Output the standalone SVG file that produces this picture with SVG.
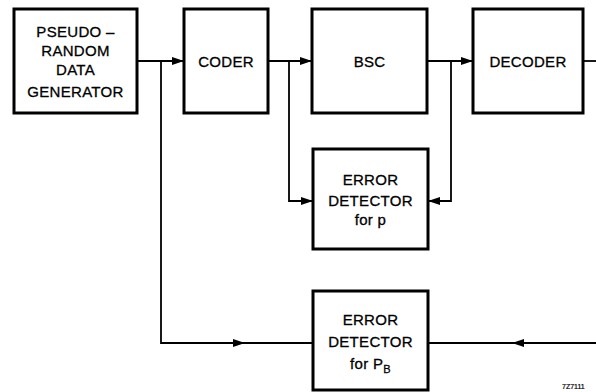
<svg xmlns="http://www.w3.org/2000/svg" width="596" height="392" viewBox="0 0 596 392">
<style>
.box{fill:#fff;stroke:#000;stroke-width:3}
.ln{fill:none;stroke:#000;stroke-width:1.8}
.t{font-family:"Liberation Sans",Arial,sans-serif;font-size:15px;fill:#000;text-anchor:middle;letter-spacing:0.3px;stroke:#000;stroke-width:0.3}
.s{font-family:"Liberation Sans",Arial,sans-serif;font-size:7px;fill:#000;stroke:#000;stroke-width:0.2}
</style>
<defs>
<marker id="ar" viewBox="0 0 12 8" refX="12" refY="4" markerWidth="12" markerHeight="8" markerUnits="userSpaceOnUse" orient="auto">
<path d="M0,0 L12,4 L0,8 Z" fill="#000"/>
</marker>
</defs>
<g id="connectors">
<path class="ln" d="M137,61 H184" marker-end="url(#ar)"/>
<path class="ln" d="M268,61 H312" marker-end="url(#ar)"/>
<path class="ln" d="M427,61 H473" marker-end="url(#ar)"/>
<path class="ln" d="M583,61 H596"/>
<path class="ln" d="M289,61 V201 H313" marker-end="url(#ar)"/>
<path class="ln" d="M451,61 V201 H428" marker-end="url(#ar)"/>
<path class="ln" d="M161,61 V343 H245" marker-end="url(#ar)"/>
<path class="ln" d="M245,343 H313"/>
<path class="ln" d="M596,343 H512" marker-end="url(#ar)"/>
<path class="ln" d="M512,343 H428"/>
</g>
<g id="prng">
<rect class="box" x="14" y="9" width="123" height="104"/>
<text class="t" x="75.5" y="37">PSEUDO –</text>
<text class="t" x="75.5" y="56">RANDOM</text>
<text class="t" x="75.5" y="75">DATA</text>
<text class="t" x="75.5" y="97">GENERATOR</text>
</g>
<g id="coder">
<rect class="box" x="184" y="9" width="84" height="104"/>
<text class="t" x="226" y="67">CODER</text>
</g>
<g id="bsc">
<rect class="box" x="312" y="9" width="115" height="104"/>
<text class="t" x="369.5" y="67">BSC</text>
</g>
<g id="decoder">
<rect class="box" x="473" y="9" width="110" height="104"/>
<text class="t" x="528" y="67">DECODER</text>
</g>
<g id="errp">
<rect class="box" x="313" y="149" width="115" height="100"/>
<text class="t" x="370.5" y="185">ERROR</text>
<text class="t" x="370.5" y="206">DETECTOR</text>
<text class="t" x="370.5" y="225">for  p</text>
</g>
<g id="errpb">
<rect class="box" x="313" y="291" width="115" height="99"/>
<text class="t" x="370.5" y="325">ERROR</text>
<text class="t" x="370.5" y="347">DETECTOR</text>
<text class="t" x="370.5" y="369">for  P<tspan font-size="11" dy="4">B</tspan></text>
</g>
<text class="s" x="562" y="389">7Z7111</text>
</svg>
